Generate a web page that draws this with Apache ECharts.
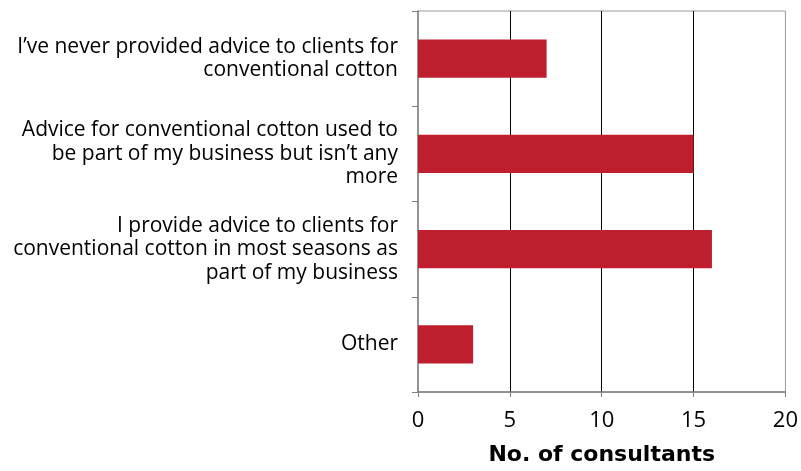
<!DOCTYPE html>
<html><head><meta charset="utf-8">
<script src="https://cdn.jsdelivr.net/npm/echarts@6/dist/echarts.min.js"></script>
<style>html,body{margin:0;padding:0;background:#fff}#c{width:801px;height:471px}</style>
</head><body><div id="c"></div>
<script>
const categories = [
  "I\u2019ve never provided advice to clients for\nconventional cotton",
  "Advice for conventional cotton used to\nbe part of my business but isn\u2019t any\nmore",
  "I provide advice to clients for\nconventional cotton in most seasons as\npart of my business",
  "Other"
];
const values = [7, 15, 16, 3];
const xTicks = [0, 5, 10, 15, 20];
const xName = "No. of consultants";

const chart = echarts.init(document.getElementById('c'));
chart.setOption({
  animation: false,
  textStyle: { fontFamily: 'Open Sans' },
  grid: { left: 418, right: 15, top: 11, bottom: 72, show: true, borderColor: '#999', borderWidth: 1, containLabel: false },
  xAxis: {
    type: 'value', min: xTicks[0], max: xTicks[xTicks.length - 1], interval: 5,
    name: xName, nameLocation: 'middle', nameGap: 52,
    nameTextStyle: { fontSize: 22, fontWeight: 'bold', color: '#000', fontFamily: 'DejaVu Sans' },
    axisLine: { show: true, lineStyle: { color: '#808080', width: 1.5 } },
    axisTick: { show: true, length: 5, lineStyle: { color: '#808080' } },
    axisLabel: { fontSize: 22, color: '#000', margin: 18, fontFamily: 'Open Sans' },
    splitLine: { show: true, showMinLine: false, showMaxLine: false, lineStyle: { color: '#000', width: 1 } }
  },
  yAxis: {
    type: 'category', data: categories, inverse: true,
    axisLine: { show: true, lineStyle: { color: '#808080', width: 1.5 } },
    axisTick: { show: true, length: 6, lineStyle: { color: '#808080' } },
    axisLabel: { fontSize: 21, color: '#000', margin: 20, lineHeight: 23.5, align: 'right' }
  },
  series: [{
    type: 'bar', data: values, barWidth: '40%',
    itemStyle: { color: '#BE1E2D' }
  }]
});
</script></body></html>
